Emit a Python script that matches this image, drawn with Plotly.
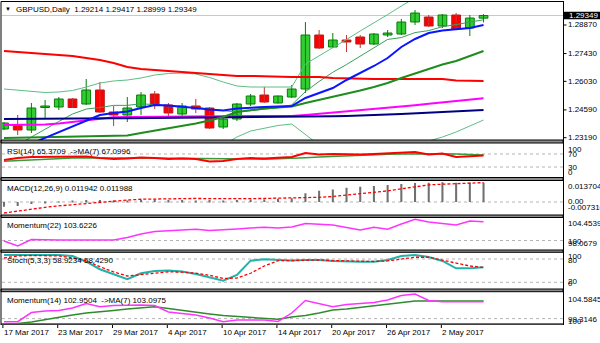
import pandas as pd
import plotly.graph_objects as go

# ---------------- GBPUSD daily bars ----------------
dates = pd.bdate_range("2017-03-17", periods=36)

opens = [1.23628, 1.23795, 1.23578, 1.24712, 1.24737, 1.25140, 1.24888, 1.25594, 1.24485, 1.24334,
         1.24737, 1.25392, 1.24838, 1.24384, 1.24788, 1.24687, 1.23729, 1.24132, 1.24888, 1.25342,
         1.24939, 1.25241, 1.25644, 1.28366, 1.27761, 1.28114, 1.28265, 1.27912, 1.28366, 1.28416,
         1.29021, 1.29273, 1.28820, 1.29374, 1.28719, 1.29214]
highs = [1.23981, 1.24334, 1.24939, 1.25090, 1.25241, 1.25191, 1.26148, 1.25997, 1.24788, 1.25241,
         1.25493, 1.25544, 1.24939, 1.24939, 1.25140, 1.24737, 1.24334, 1.24939, 1.25392, 1.25745,
         1.25317, 1.25846, 1.29021, 1.28618, 1.28467, 1.28366, 1.28366, 1.28467, 1.28618, 1.29172,
         1.29626, 1.29374, 1.29424, 1.29475, 1.29374, 1.29417]
lows = [1.23578, 1.23326, 1.23427, 1.24183, 1.24586, 1.24687, 1.24838, 1.24435, 1.23780, 1.23981,
        1.24334, 1.24636, 1.24183, 1.24233, 1.24435, 1.23628, 1.23628, 1.24032, 1.24788, 1.24939,
        1.24914, 1.25191, 1.25443, 1.27660, 1.27711, 1.27509, 1.27711, 1.27862, 1.28265, 1.28366,
        1.28870, 1.28769, 1.28719, 1.28618, 1.28316, 1.28999]
closes = [1.23931, 1.23578, 1.24687, 1.24788, 1.25140, 1.24712, 1.25594, 1.24485, 1.24334, 1.24687,
          1.25342, 1.24838, 1.24435, 1.24788, 1.24636, 1.23679, 1.24132, 1.24888, 1.25292, 1.24989,
          1.25292, 1.25644, 1.28366, 1.27711, 1.28114, 1.28013, 1.27912, 1.28416, 1.28467, 1.29021,
          1.29475, 1.28820, 1.29374, 1.28668, 1.29223, 1.29349]

# ---------------- price overlays ----------------
ma_red = [1.27560, 1.27509, 1.27459, 1.27408, 1.27358, 1.27308, 1.27207, 1.27106, 1.26955, 1.26753,
          1.26652, 1.26602, 1.26552, 1.26501, 1.26451, 1.26400, 1.26350, 1.26300, 1.26300, 1.26274,
          1.26249, 1.26249, 1.26249, 1.26249, 1.26199, 1.26174, 1.26148, 1.26148, 1.26148, 1.26148,
          1.26148, 1.26148, 1.26148, 1.26073, 1.26048, 1.26048]
ma_magenta = [1.23830, 1.23830, 1.23830, 1.23855, 1.23906, 1.23981, 1.24057, 1.24158, 1.24218, 1.24233,
              1.24243, 1.24248, 1.24253, 1.24258, 1.24263, 1.24268, 1.24273, 1.24279, 1.24284, 1.24284,
              1.24284, 1.24284, 1.24334, 1.24394, 1.24455, 1.24505, 1.24551, 1.24621, 1.24687, 1.24757,
              1.24828, 1.24898, 1.24969, 1.25040, 1.25105, 1.25176]
ma_navy = [1.24132, 1.24132, 1.24137, 1.24142, 1.24147, 1.24152, 1.24157, 1.24162, 1.24167, 1.24173,
           1.24178, 1.24183, 1.24188, 1.24193, 1.24198, 1.24203, 1.24208, 1.24213, 1.24218, 1.24223,
           1.24228, 1.24233, 1.24243, 1.24258, 1.24273, 1.24284, 1.24299, 1.24324, 1.24354, 1.24384,
           1.24414, 1.24445, 1.24475, 1.24510, 1.24546, 1.24586]
ma_blue = [1.22368, 1.22620, 1.22893, 1.23180, 1.23477, 1.23759, 1.24057, 1.24334, 1.24435, 1.24510,
           1.24687, 1.24838, 1.24813, 1.24762, 1.24687, 1.24611, 1.24561, 1.24662, 1.24712, 1.24737,
           1.24762, 1.24788, 1.25191, 1.25443, 1.25695, 1.26098, 1.26451, 1.26804, 1.27207, 1.27761,
           1.28164, 1.28467, 1.28593, 1.28643, 1.28719, 1.28870]
ma_green = [1.23175, 1.23190, 1.23205, 1.23220, 1.23235, 1.23250, 1.23266, 1.23276, 1.23291, 1.23301,
            1.23427, 1.23548, 1.23649, 1.23780, 1.23906, 1.24057, 1.24233, 1.24485, 1.24586, 1.24662,
            1.24712, 1.24762, 1.24939, 1.25090, 1.25241, 1.25392, 1.25569, 1.25745, 1.25947, 1.26199,
            1.26426, 1.26678, 1.26879, 1.27056, 1.27308, 1.27560]
ma_fast = [1.22570, 1.22822, 1.23225, 1.23628, 1.24006, 1.24384, 1.24633, 1.24712, 1.24820, 1.24820,
           1.24899, 1.24856, 1.24816, 1.24701, 1.24723, 1.24629, 1.24550, 1.24485, 1.24550, 1.24629,
           1.24701, 1.24845, 1.25515, 1.26026, 1.26487, 1.26876, 1.27293, 1.27739, 1.28143, 1.28236,
           1.28488, 1.28589, 1.28784, 1.28892, 1.29007, 1.29133]
bb_upper = [1.25644, 1.25594, 1.25518, 1.25468, 1.25493, 1.25569, 1.25745, 1.25947, 1.26048, 1.26098,
            1.26199, 1.26350, 1.26426, 1.26451, 1.26400, 1.26224, 1.25997, 1.25796, 1.25745, 1.25745,
            1.25745, 1.25745, 1.26904, 1.27308, 1.27711, 1.28139, 1.28568, 1.28971, 1.29394, 1.29828,
            1.30231, 1.30533, 1.30735, 1.30836, 1.30886, 1.30886]
bb_lower = [1.21814, 1.21764, 1.21713, 1.21663, 1.21663, 1.21713, 1.21814, 1.21965, 1.22066, 1.22167,
            1.22268, 1.22419, 1.22570, 1.22671, 1.22772, 1.22923, 1.22822, 1.23225, 1.23528, 1.23679,
            1.23805, 1.23880, 1.23326, 1.22822, 1.22570, 1.22419, 1.22318, 1.22318, 1.22419, 1.22570,
            1.22772, 1.23024, 1.23225, 1.23477, 1.23780, 1.24082]
price_scale = ["1.28870", "1.27430", "1.26030", "1.24590", "1.23190"]

# ---------------- oscillators ----------------
rsi = [51.5, 57.6, 60.6, 60.6, 60.6, 60.6, 62.1, 57.6, 54.5, 56.1, 59.1, 57.6, 54.5, 56.1, 54.5, 47.0,
       48.5, 54.5, 57.6, 56.1, 57.6, 60.6, 72.7, 68.2, 69.7, 68.2, 68.2, 69.7, 71.2, 74.2, 75.8, 68.5,
       71.5, 61.0, 64.0, 65.3709]
rsi_ma = [48.0, 50.0, 53.0, 55.0, 57.0, 58.0, 58.0, 58.5, 58.0, 58.0, 57.5, 57.0, 57.0, 56.5, 56.0, 55.0,
          54.0, 53.5, 53.5, 54.0, 55.0, 56.0, 58.5, 61.0, 63.0, 65.0, 67.0, 69.0, 69.5, 70.0, 71.0, 71.5,
          71.0, 70.0, 68.5, 67.0996]
macd_hist = [-0.0030, -0.0025, -0.0012, -0.0005, 0.0003, 0.0006, 0.0012, 0.0012, 0.0008, 0.0008,
             0.0014, 0.0015, 0.0012, 0.0012, 0.0010, 0.0012, 0.0010, 0.0013, 0.0016, 0.0017,
             0.0020, 0.0023, 0.0054, 0.0070, 0.0078, 0.0088, 0.0095, 0.0099, 0.0105, 0.0111,
             0.0118, 0.0119, 0.0122, 0.0119, 0.0120, 0.011942]
macd_signal = [-0.0068, -0.0055, -0.0043, -0.0033, -0.0024, -0.0016, -0.0008, 0.0000, 0.0006, 0.0012,
               0.0017, 0.0019, 0.0021, 0.0022, 0.0022, 0.0021, 0.0020, 0.0020, 0.0021, 0.0022,
               0.0023, 0.0024, 0.0025, 0.0029, 0.0034, 0.0042, 0.0050, 0.0060, 0.0069, 0.0081,
               0.0094, 0.0106, 0.0110, 0.0113, 0.0117, 0.011988]
mom22 = [99.90, 98.95, 100.20, 100.10, 100.10, 100.10, 100.10, 100.10, 100.10, 100.58, 101.26, 101.74,
         101.90, 102.03, 102.17, 101.94, 102.03, 102.23, 102.42, 102.56, 102.42, 102.62, 103.29, 103.20,
         103.00, 102.52, 102.03, 102.56, 102.17, 103.20, 104.11, 103.58, 103.29, 103.00, 103.78, 103.6226]
stoch_k = [90.4, 90.4, 90.4, 90.4, 90.4, 87.8, 73.0, 53.6, 39.7, 27.8, 43.3, 49.0, 50.5, 48.0, 41.5, 32.4,
           24.2, 38.9, 75.7, 79.3, 77.5, 76.2, 77.5, 77.5, 75.0, 73.1, 73.1, 73.1, 77.5, 87.8, 90.4, 85.2,
           75.0, 56.1, 56.1, 58.9234]
stoch_d = [82.6, 87.8, 89.0, 89.0, 87.8, 82.6, 75.0, 60.3, 46.6, 36.3, 40.2, 44.8, 47.0, 46.0, 43.5, 38.0,
           30.0, 31.0, 43.3, 62.0, 75.7, 76.0, 77.5, 77.5, 76.0, 75.0, 73.6, 73.6, 75.0, 80.0, 84.5, 84.5,
           77.5, 69.8, 62.0, 58.4290]
mom14 = [99.45, 99.45, 101.07, 101.33, 101.42, 101.86, 102.65, 102.09, 102.30, 102.39, 102.39, 102.30,
         101.16, 100.90, 100.63, 100.10, 99.45, 99.75, 99.75, 99.75, 99.49, 100.98, 103.18, 102.65,
         102.09, 102.48, 102.65, 102.83, 103.27, 104.06, 104.32, 103.18, 102.97, 102.97, 102.97, 102.9504]
mom14_ma = [99.05, 99.14, 99.40, 99.84, 100.28, 100.63, 100.98, 101.16, 101.42, 101.69, 101.86, 102.09,
            101.77, 101.42, 101.16, 100.81, 100.54, 100.37, 100.16, 100.02, 99.88, 100.28, 100.54, 100.98,
            101.51, 101.69, 101.95, 102.21, 102.56, 102.79, 103.09, 103.09, 103.09, 103.05, 103.05, 103.0975]

# ---------------- geometry helpers (pixels -> paper) ----------------
W, H = 600, 343
PLOT_L, PLOT_R = 2, 563
FONT = "Liberation Sans, Arial, sans-serif"


def fx(px):
    return px / W


def fy(py):
    return 1 - py / H


n = len(closes)
idx = list(range(n))

# (axis id, top px, bottom px, value range)
panes = [
    ("y", 2.0, 140.0, [1.230740, 1.300292]),
    ("y2", 143.0, 177.5, [-2.3, 103.8]),
    ("y3", 180.5, 215.0, [-0.00803, 0.01329]),
    ("y4", 217.5, 250.0, [98.165, 104.454]),
    ("y5", 252.3, 289.0, [2.75, 97.25]),
    ("y6", 291.7, 323.3, [99.174, 104.725]),
]
axes_layout = {}
for name, top, bot, rng in panes:
    axes_layout["yaxis" + name[1:]] = dict(domain=[fy(bot), fy(top)], range=rng, visible=False,
                                           anchor="x", fixedrange=True)

fig = go.Figure()


def line(y, color, width, axis="y", dash=None):
    fig.add_trace(go.Scatter(x=idx, y=y, mode="lines", yaxis=axis, hoverinfo="skip",
                             line=dict(color=color, width=width, dash=dash)))


# ---- candles: wicks then bodies ----
up = [i for i in idx if closes[i] >= opens[i]]
dn = [i for i in idx if closes[i] < opens[i]]
for sel, col in ((up, "#008000"), (dn, "#C83232")):
    wx, wy = [], []
    for i in sel:
        wx += [i, i, None]
        wy += [lows[i], highs[i], None]
    fig.add_trace(go.Scatter(x=wx, y=wy, mode="lines", line=dict(color=col, width=1), hoverinfo="skip"))

fig.add_trace(go.Bar(
    x=idx, y=[c - o for o, c in zip(opens, closes)], base=opens, width=0.64, hoverinfo="skip",
    marker=dict(color=["#32CD32" if c >= o else "#FF0000" for o, c in zip(opens, closes)],
                line=dict(color=["#0A7A0A" if c >= o else "#B41E1E" for o, c in zip(opens, closes)],
                          width=1)),
))

# ---- price overlays ----
line(bb_upper, "#5DBE85", 1)
line(bb_lower, "#5DBE85", 1)
line(ma_fast, "#3A9F5C", 1)
line(ma_red, "#FF0000", 2)
line(ma_magenta, "#FF00FF", 2)
line(ma_navy, "#000080", 2)
line(ma_green, "#1E8C1E", 2)
line(ma_blue, "#0A14FF", 2)

# ---- RSI ----
line(rsi_ma, "#3A9A3A", 1.5, "y2")
line(rsi, "#FF0000", 2, "y2")

# ---- MACD ----
fig.add_trace(go.Bar(x=idx, y=macd_hist, width=0.15, yaxis="y3", hoverinfo="skip",
                     marker=dict(color="#707070", line=dict(width=0))))
line(macd_signal, "#FF0000", 1.3, "y3", dash="3px,2px")

# ---- Momentum(22) ----
line(mom22, "#FF33FF", 1.5, "y4")

# ---- Stochastic ----
line(stoch_k, "#20B2AA", 2, "y5")
line(stoch_d, "#FF0000", 1.3, "y5", dash="3px,2px")

# ---- Momentum(14) + MA ----
line(mom14_ma, "#2E8B2E", 1.5, "y6")
line(mom14, "#FF33FF", 1.5, "y6")

fig.update_layout(
    width=W, height=H, margin=dict(l=0, r=0, t=0, b=0),
    paper_bgcolor="white", plot_bgcolor="white", showlegend=False,
    barmode="overlay",
    xaxis=dict(domain=[fx(PLOT_L), fx(PLOT_R)], range=[-0.146, 40.80], visible=False, fixedrange=True),
    **axes_layout,
)

# ---- level lines ----
GRID = dict(color="#B4B4B4", width=1, dash="3px,3px")
for axis, lvl in (("y2", 70), ("y2", 30), ("y3", 0), ("y4", 100), ("y5", 80), ("y5", 20), ("y6", 100)):
    fig.add_shape(type="line", xref="paper", yref=axis, x0=fx(PLOT_L), x1=fx(PLOT_R), y0=lvl, y1=lvl,
                  line=GRID, layer="below")

last_price = closes[-1]
fig.add_shape(type="line", xref="paper", yref="y", x0=fx(PLOT_L), x1=fx(PLOT_R), y0=last_price,
              y1=last_price, line=dict(color="#C8C8C8", width=1), layer="below")

# ---- frame and pane separators ----
for y0, y1 in ((140, 143), (177.5, 180.5), (215, 217.5), (250, 252.3), (289, 291.7)):
    fig.add_shape(type="rect", xref="paper", yref="paper", x0=fx(1), x1=fx(PLOT_R), y0=fy(y1), y1=fy(y0),
                  fillcolor="#8C8C8C", line=dict(color="#000000", width=1))
fig.add_shape(type="rect", xref="paper", yref="paper", x0=fx(1), x1=fx(PLOT_R), y0=fy(325), y1=fy(323.3),
              fillcolor="#404040", line=dict(width=0))
fig.add_shape(type="line", xref="paper", yref="paper", x0=fx(1), x1=fx(PLOT_R), y0=fy(1.5), y1=fy(1.5),
              line=dict(color="#000000", width=1))
fig.add_shape(type="line", xref="paper", yref="paper", x0=fx(1), x1=fx(1), y0=fy(1.5), y1=fy(325),
              line=dict(color="#000000", width=1))
fig.add_shape(type="line", xref="paper", yref="paper", x0=fx(PLOT_R + 0.5), x1=fx(PLOT_R + 0.5),
              y0=fy(1), y1=fy(325), line=dict(color="#000000", width=1))


def text(s, x, y, color="#000000", size=8, anchor="left", xref="paper", yref="paper"):
    fig.add_annotation(text=s, x=x, y=y, xref=xref, yref=yref, xanchor=anchor, yanchor="middle",
                       showarrow=False, borderpad=0, font=dict(family=FONT, size=size, color=color))


# ---- right price scale ----
for s in price_scale:
    v = float(s)
    fig.add_shape(type="line", xref="paper", yref="y", x0=fx(PLOT_R + 0.5), x1=fx(PLOT_R + 3.5), y0=v, y1=v,
                  line=dict(color="#000000", width=1))
    text(s, fx(567), v, yref="y")
fig.add_shape(type="rect", xref="paper", yref="y", x0=fx(564), x1=fx(600), y0=last_price - 0.0019,
              y1=last_price + 0.0019, fillcolor="#000000", line=dict(width=0))
text(f"{last_price:.5f}", fx(567.5), last_price, color="#FFFFFF", yref="y")

scale_labels = [
    ("100", 149), ("70", 154), ("30", 167.2), ("0", 172.8),
    ("0.013704", 186.7), ("0.00", 201.2), ("-0.007316", 207.6),
    ("104.4539", 223.3), ("100", 241.2), ("98.0679", 243.8),
    ("100", 256.5), ("80", 260), ("20", 281), ("0", 283.4),
    ("104.5845", 299.5), ("99.3146", 319.6), ("100", 321.2),
]
for s, py in scale_labels:
    text(s, fx(567), fy(py))

# ---- pane captions ----
NB = "\u00a0"
text("\u25bc", fx(4), fy(9.3), size=6)
text(f"GBPUSD,Daily{NB}{NB}{opens[-1]:.5f} {highs[-1]:.5f} {lows[-1]:.5f} {closes[-1]:.5f}", fx(14.5), fy(9.5))
text(f"RSI(14) {rsi[-1]:.4f}{NB}{NB}->MA(7) {rsi_ma[-1]:.4f}", fx(5.5), fy(151))
text(f"MACD(12,26,9) {macd_hist[-1]:.6f} {macd_signal[-1]:.6f}", fx(5.5), fy(188.3))
text(f"Momentum(22) {mom22[-1]:.4f}", fx(5.5), fy(225))
text(f"Stoch(5,3,3) {stoch_k[-1]:.4f} {stoch_d[-1]:.4f}", fx(5.5), fy(260))
text(f"Momentum(14) {mom14[-1]:.4f}{NB}{NB}->MA(7) {mom14_ma[-1]:.4f}", fx(5.5), fy(300))

# ---- time axis: a label every fourth bar ----
for i in range(0, 33, 4):
    fig.add_shape(type="line", xref="x", yref="paper", x0=i - 0.08, x1=i - 0.08, y0=fy(325), y1=fy(328),
                  line=dict(color="#000000", width=1))
    text(f"{dates[i].day} {dates[i].strftime('%b %Y')}", i - 0.1, fy(332.5), xref="x")

fig.write_html("out.html")
